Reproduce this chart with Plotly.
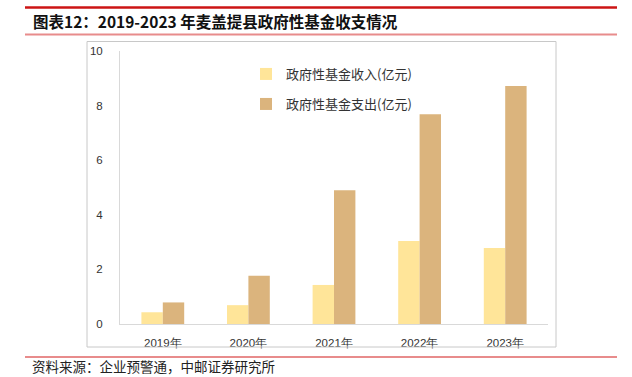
import plotly.graph_objects as go

years = ["2019年", "2020年", "2021年", "2022年", "2023年"]
income = [0.43, 0.69, 1.43, 3.04, 2.78]
expense = [0.79, 1.77, 4.90, 7.68, 8.72]
name_income = "政府性基金收入(亿元)"
name_expense = "政府性基金支出(亿元)"
title = "图表12：2019-2023 年麦盖提县政府性基金收支情况"
source = "资料来源：企业预警通，中邮证券研究所"

W, H = 632, 377
L, R, T, B = 120, 548, 51, 324

def px(x):
    return (x - L) / (R - L)

def py(y):
    return (B - y) / (B - T)

fig = go.Figure()
fig.add_bar(x=years, y=income, name=name_income, marker_color="#FFE599",
            marker_line_width=0, legend="legend")
fig.add_bar(x=years, y=expense, name=name_expense, marker_color="#DBB47D",
            marker_line_width=0, legend="legend2")

shapes = [
    dict(type="line", xref="paper", yref="paper", x0=px(25), x1=px(617),
         y0=py(7.5), y1=py(7.5), line=dict(color="#CC1414", width=2.5)),
    dict(type="line", xref="paper", yref="paper", x0=px(25), x1=px(617),
         y0=py(34.5), y1=py(34.5), line=dict(color="#E88C8C", width=2)),
    dict(type="line", xref="paper", yref="paper", x0=px(25), x1=px(617),
         y0=py(357), y1=py(357), line=dict(color="#E88C8C", width=2)),
    dict(type="rect", xref="paper", yref="paper", x0=px(87), x1=px(556),
         y0=py(347), y1=py(41.5), line=dict(color="#C8C8C8", width=1)),
]

annotations = [
    dict(text=title, xref="paper", yref="paper", x=px(31), y=py(21.5),
         xanchor="left", yanchor="middle", showarrow=False,
         font=dict(size=15.5, color="#111111", family="Noto Sans CJK SC",
                   weight="bold")),
    dict(text=source, xref="paper", yref="paper", x=px(31), y=py(366.5),
         xanchor="left", yanchor="middle", showarrow=False, borderpad=0,
         font=dict(size=13.5, color="#222222", family="Noto Sans CJK SC")),
]

legend_font = dict(size=13, color="#333333", family="Noto Sans CJK SC")

fig.update_layout(
    width=W, height=H,
    margin=dict(l=L, r=W - R, t=T, b=H - B),
    paper_bgcolor="white", plot_bgcolor="white",
    barmode="group", bargap=0.5, bargroupgap=0,
    font=dict(family="Liberation Sans, Arial", color="#333333", size=11),
    showlegend=True,
    legend=dict(x=px(246), y=py(59), xanchor="left", yanchor="top",
                bgcolor="rgba(0,0,0,0)", font=legend_font, itemwidth=30),
    legend2=dict(x=px(246), y=py(89), xanchor="left", yanchor="top",
                 bgcolor="rgba(0,0,0,0)", font=legend_font, itemwidth=30),
    shapes=shapes, annotations=annotations,
)
fig.update_xaxes(showline=True, linecolor="#D9D9D9", linewidth=1, ticks="",
                 ticklabelstandoff=8,
                 tickfont=dict(size=11.5, color="#333333"), showgrid=False)
fig.update_yaxes(range=[0, 10], dtick=2, showline=True, linecolor="#D9D9D9",
                 linewidth=1, showgrid=False, zeroline=False, ticks="",
                 ticklabelstandoff=14,
                 tickfont=dict(size=11.5, color="#333333"))

fig.write_html("out.html", config={"displayModeBar": False},
               post_script="document.body.style.margin='0';"
                           "document.documentElement.style.overflow='hidden';")
